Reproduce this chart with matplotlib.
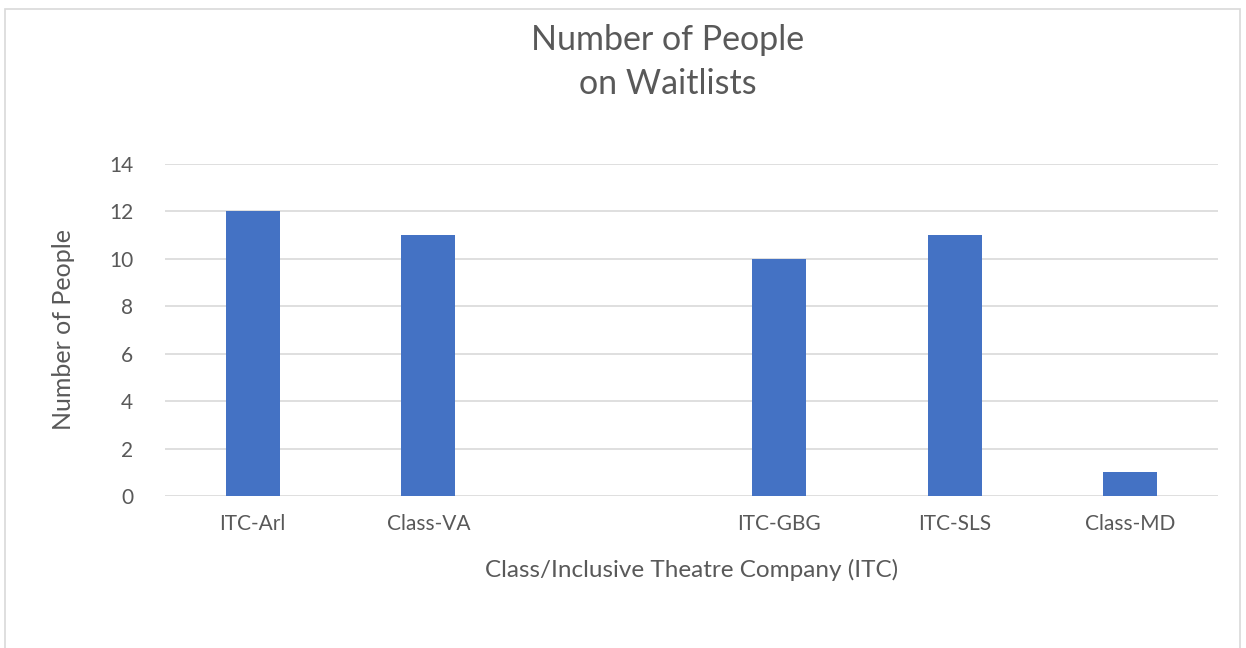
import matplotlib.pyplot as plt
from matplotlib.patches import Rectangle

categories = ['ITC-Arl', 'Class-VA', '', 'ITC-GBG', 'ITC-SLS', 'Class-MD']
people = [12, 11, 0, 10, 11, 1]
yticks = [0, 2, 4, 6, 8, 10, 12, 14]

plt.rcParams['font.family'] = ['Lato', 'DejaVu Sans']
txt = '#595959'

W, H = 1246, 648
fig = plt.figure(figsize=(W / 100, H / 100), dpi=100)
ax = fig.add_axes([165 / W, (H - 496) / H, (1218 - 165) / W, (496 - 164) / H])

x = list(range(len(categories)))
ax.bar(x, people, width=0.31, color='#4472C4', zorder=3)
ax.set_xlim(-0.5, len(categories) - 0.5)
ax.set_ylim(0, 14)
ax.set_yticks(yticks)
ax.set_xticks(x)
ax.set_xticklabels(categories)
ax.grid(axis='y', color='#d9d9d9', linewidth=1.2, zorder=0)
for s in ax.spines.values():
    s.set_visible(False)
ax.tick_params(length=0, colors=txt, labelsize=15)
ax.tick_params(axis='x', pad=13)
ax.tick_params(axis='y', pad=23)

ax.set_xlabel('Class/Inclusive Theatre Company (ITC)', fontsize=17.5, color=txt, labelpad=18)
ax.set_ylabel('Number of People', fontsize=18, color=txt, labelpad=24)
fig.text(668 / W, 1 - 62 / H, 'Number of People\non Waitlists', ha='center', va='center',
         fontsize=24.5, color=txt, linespacing=1.5)

fig.patches.append(Rectangle((5 / W, -0.01), (1240 - 5) / W, (H - 9) / H + 0.01,
                             transform=fig.transFigure, fill=False, edgecolor='#d9d9d9', linewidth=1.2))

fig.savefig('out.png', dpi=100)
